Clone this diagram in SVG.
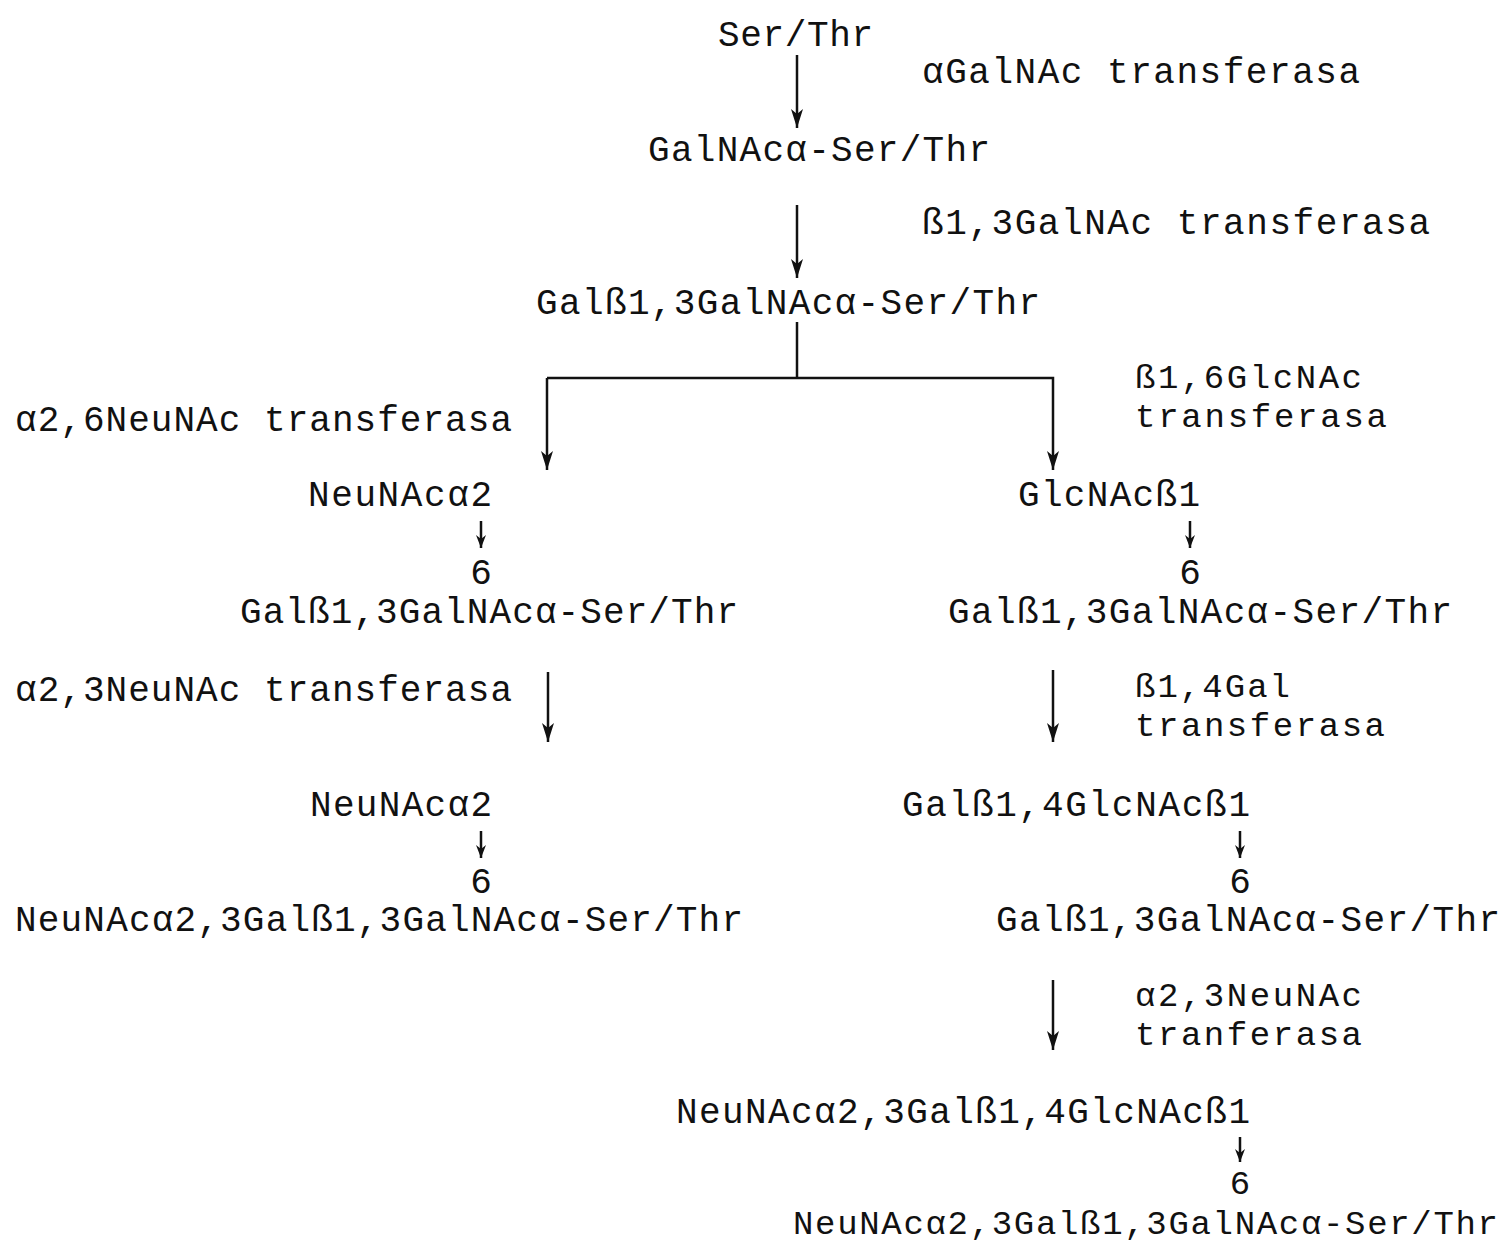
<svg xmlns="http://www.w3.org/2000/svg" width="1511" height="1245" viewBox="0 0 1511 1245">
<style>
text{font-family:"Liberation Mono","DejaVu Sans Mono",monospace;font-size:36px;fill:#111;}
text.s{font-size:34px;}
.c line,.c path{stroke:#111;stroke-width:2.5;fill:none;}
</style>
<defs>
<marker id="hd" markerUnits="userSpaceOnUse" markerWidth="12" markerHeight="22" refX="6" refY="21" orient="0" viewBox="0 0 12 22">
<path d="M0,2 L6,21 L12,2 L6,7 Z" fill="#111"/>
</marker>
<marker id="hs" markerUnits="userSpaceOnUse" markerWidth="10" markerHeight="16" refX="5" refY="15" orient="0" viewBox="0 0 10 16">
<path d="M0,2 L5,15 L10,2 L5,6 Z" fill="#111"/>
</marker>
</defs>
<g class="c" id="connectors">
<line x1="797" y1="55" x2="797" y2="128" marker-end="url(#hd)"/>
<line x1="797" y1="205" x2="797" y2="278" marker-end="url(#hd)"/>
<line x1="797" y1="322" x2="797" y2="378"/>
<path d="M547,378 L1053,378 L1053,470" marker-end="url(#hd)"/>
<line x1="547" y1="378" x2="547" y2="470" marker-end="url(#hd)"/>
<line x1="481" y1="521" x2="481" y2="548" marker-end="url(#hs)"/>
<line x1="1190" y1="521" x2="1190" y2="548" marker-end="url(#hs)"/>
<line x1="548" y1="672" x2="548" y2="742" marker-end="url(#hd)"/>
<line x1="1053" y1="670" x2="1053" y2="742" marker-end="url(#hd)"/>
<line x1="481" y1="831" x2="481" y2="858" marker-end="url(#hs)"/>
<line x1="1240" y1="831" x2="1240" y2="858" marker-end="url(#hs)"/>
<line x1="1053" y1="980" x2="1053" y2="1050" marker-end="url(#hd)"/>
<line x1="1240" y1="1137" x2="1240" y2="1162" marker-end="url(#hs)"/>
</g>
<g id="n1"><text x="718" y="46" textLength="155">Ser/Thr</text></g>
<g id="e1"><text x="922" y="83" textLength="438">αGalNAc transferasa</text></g>
<g id="n2"><text x="648" y="161" textLength="342">GalNAcα-Ser/Thr</text></g>
<g id="e2"><text x="922" y="234" textLength="508">ß1,3GalNAc transferasa</text></g>
<g id="n3"><text x="536" y="314" textLength="504">Galß1,3GalNAcα-Ser/Thr</text></g>
<g id="e3"><text x="15" y="431" textLength="497">α2,6NeuNAc transferasa</text></g>
<g id="e4"><text class="s" x="1135" y="388" textLength="227">ß1,6GlcNAc</text><text class="s" x="1135" y="427" textLength="252">transferasa</text></g>
<g id="n4"><text x="308" y="506" textLength="184">NeuNAcα2</text><text x="481" y="584" text-anchor="middle">6</text><text x="240" y="623" textLength="498">Galß1,3GalNAcα-Ser/Thr</text></g>
<g id="n5"><text x="1018" y="506" textLength="182">GlcNAcß1</text><text x="1190" y="584" text-anchor="middle">6</text><text x="948" y="623" textLength="504">Galß1,3GalNAcα-Ser/Thr</text></g>
<g id="e5"><text x="15" y="701" textLength="497">α2,3NeuNAc transferasa</text></g>
<g id="e6"><text class="s" x="1135" y="697" textLength="155">ß1,4Gal</text><text class="s" x="1135" y="736" textLength="250">transferasa</text></g>
<g id="n6"><text x="310" y="816" textLength="182">NeuNAcα2</text><text x="481" y="893" text-anchor="middle">6</text><text x="15" y="931" textLength="728">NeuNAcα2,3Galß1,3GalNAcα-Ser/Thr</text></g>
<g id="n7"><text x="902" y="816" textLength="348">Galß1,4GlcNAcß1</text><text x="1240" y="893" text-anchor="middle">6</text><text x="996" y="931" textLength="504">Galß1,3GalNAcα-Ser/Thr</text></g>
<g id="e7"><text class="s" x="1135" y="1006" textLength="227">α2,3NeuNAc</text><text class="s" x="1135" y="1045" textLength="227">tranferasa</text></g>
<g id="n8"><text x="676" y="1123" textLength="574">NeuNAcα2,3Galß1,4GlcNAcß1</text><text class="s" x="1240" y="1194" text-anchor="middle">6</text><text class="s" x="793" y="1234" textLength="705">NeuNAcα2,3Galß1,3GalNAcα-Ser/Thr</text></g>
</svg>
